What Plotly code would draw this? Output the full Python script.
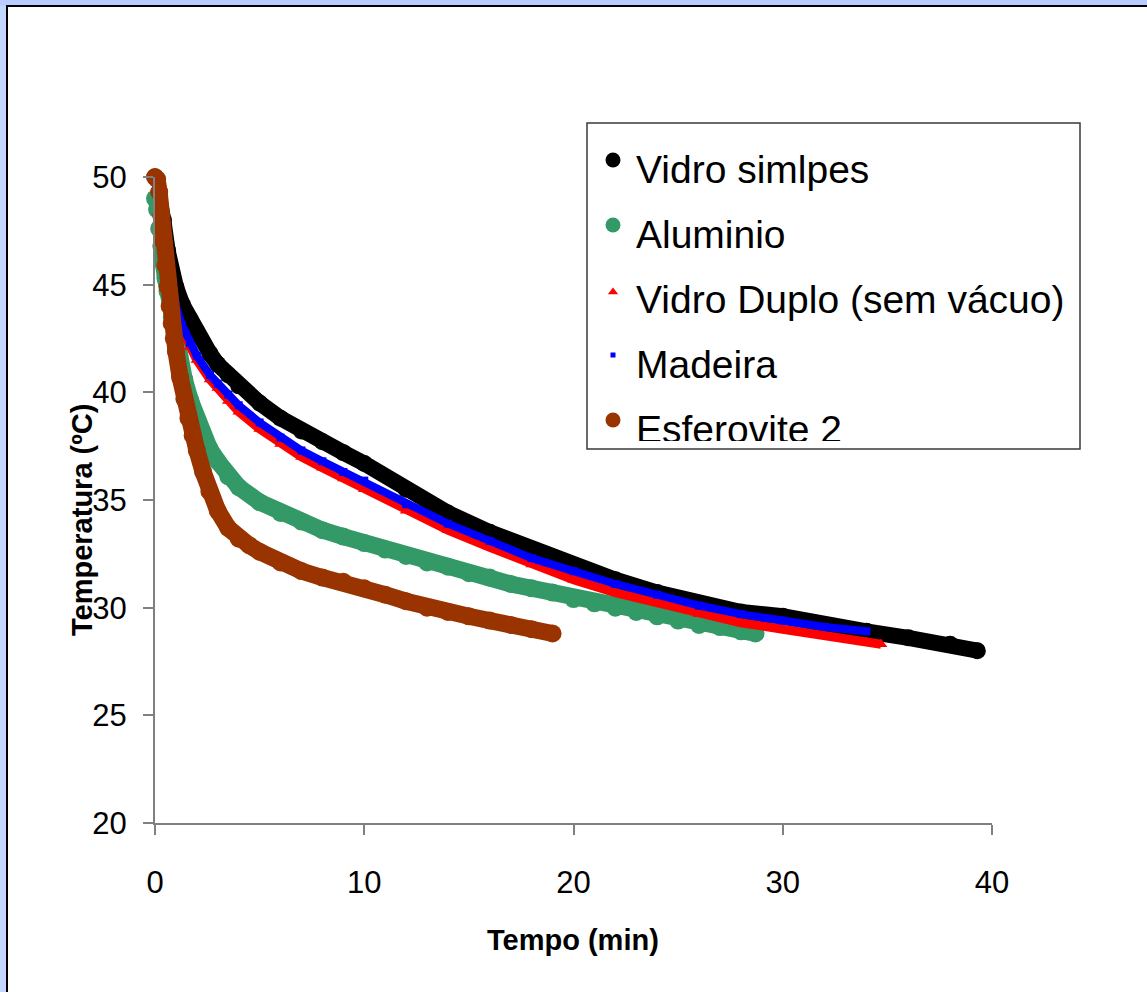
import plotly.graph_objects as go

# ---- cooling curves: time (min) and temperature (ºC) ----
vidro_simples_t = [0, 0.2, 0.4, 0.6, 0.72, 1.0, 1.3, 1.67, 2.0, 2.63, 3.0, 3.5, 4.0, 5.0, 6, 7, 8, 9, 10,
                   12, 14, 16, 18, 20, 22, 24, 26, 28, 30, 32, 34, 36, 38, 39.3]
vidro_simples_T = [50, 49.3, 48.0, 46.6, 45.7, 44.9, 44.1, 43.4, 42.8, 41.8, 41.3, 40.8, 40.3, 39.5, 38.8, 38.2, 37.7, 37.2, 36.7,
                   35.5, 34.4, 33.5, 32.7, 31.9, 31.3, 30.7, 30.2, 29.8, 29.6, 29.2, 28.9, 28.6, 28.3, 28.0]

aluminio_t = [0, 0.1, 0.2, 0.3, 0.4, 0.5, 0.6, 0.8, 1.0, 1.2, 1.4, 1.7, 2.0, 2.3, 2.6, 3.0, 3.5, 4.0, 5.0,
              6, 7, 8, 9, 10, 11, 12, 13, 14, 15, 16, 17, 18, 19, 20, 21, 22, 23, 24, 25, 26, 27, 28, 28.7]
aluminio_T = [49.0, 48.5, 47.6, 46.8, 46.0, 45.3, 44.7, 43.5, 42.4, 41.4, 40.6, 39.6, 38.7, 38.0, 37.4, 36.8, 36.1, 35.6, 34.9,
              34.4, 34.0, 33.6, 33.3, 33.0, 32.7, 32.4, 32.1, 31.9, 31.6, 31.4, 31.1, 30.9, 30.7, 30.4, 30.2, 30.0, 29.8, 29.6, 29.4, 29.2, 29.1, 28.9, 28.8]

vidro_duplo_t = [0, 0.2, 0.4, 0.6, 0.72, 1.0, 1.3, 1.67, 2.0, 2.63, 3.0, 3.5, 4.0, 5, 6, 7, 8, 9, 10,
                 12, 14, 16, 18, 20, 22, 24, 26, 28, 30, 32, 34, 34.7]
vidro_duplo_T = [50, 48.7, 47.1, 45.7, 45.0, 43.8, 42.9, 42.1, 41.5, 40.6, 40.2, 39.6, 39.1, 38.3, 37.6, 37.0, 36.5, 36.0, 35.5,
                 34.5, 33.6, 32.8, 32.0, 31.3, 30.7, 30.2, 29.7, 29.3, 29.0, 28.7, 28.4, 28.3]

madeira_t = [0, 0.2, 0.4, 0.6, 0.72, 1.0, 1.3, 1.67, 2.0, 2.63, 3.0, 3.5, 4.0, 5, 6, 7, 8, 9, 10,
             12, 14, 16, 18, 20, 22, 24, 26, 28, 30, 32, 34]
madeira_T = [50, 48.8, 47.3, 45.9, 45.2, 44.0, 43.1, 42.3, 41.7, 40.8, 40.4, 39.9, 39.4, 38.6, 37.9, 37.3, 36.8, 36.3, 35.9,
             34.8, 33.9, 33.1, 32.3, 31.7, 31.1, 30.6, 30.1, 29.7, 29.4, 29.1, 28.9]

esferovite_t = [0, 0.1, 0.2, 0.3, 0.4, 0.5, 0.6, 0.7, 0.8, 0.9, 1.0, 1.2, 1.4, 1.6, 1.8, 2.0, 2.3, 2.6, 3.0, 3.5, 4.0, 4.5, 5.0,
                6, 7, 8, 9, 10, 11, 12, 13, 14, 15, 16, 17, 18, 19]
esferovite_T = [50, 49.9, 49.3, 48.2, 47.0, 45.9, 44.9, 44.0, 43.2, 42.5, 41.9, 40.7, 39.7, 38.8, 38.0, 37.3, 36.3, 35.4, 34.5, 33.7, 33.2, 32.9, 32.6,
                32.1, 31.7, 31.4, 31.2, 30.9, 30.6, 30.3, 30.0, 29.8, 29.6, 29.4, 29.2, 29.0, 28.8]

series_names = ["Vidro simlpes", "Aluminio", "Vidro Duplo (sem vácuo)", "Madeira", "Esferovite 2"]

x_ticks = [0, 10, 20, 30, 40]
y_ticks = [20, 25, 30, 35, 40, 45, 50]

W, H = 1147, 992
FONT = "Liberation Sans, Arial, sans-serif"


def fx(px):
    return px / W


def fy(py):
    return 1 - py / H


styles = [
    dict(color="#000000", symbol="circle", size=17, lw=16),
    dict(color="#339966", symbol="circle", size=18, lw=17),
    dict(color="#FF0000", symbol="triangle-up", size=11, lw=9),
    dict(color="#0000FF", symbol="square", size=8, lw=8),
    dict(color="#993300", symbol="circle", size=18, lw=17),
]
data = [
    (vidro_simples_t, vidro_simples_T),
    (aluminio_t, aluminio_T),
    (vidro_duplo_t, vidro_duplo_T),
    (madeira_t, madeira_T),
    (esferovite_t, esferovite_T),
]

fig = go.Figure()

for name, (tt, TT), st in zip(series_names, data, styles):
    fig.add_trace(go.Scatter(
        x=tt, y=TT, name=name, mode="lines+markers",
        line=dict(color=st["color"], width=st["lw"]),
        marker=dict(color=st["color"], symbol=st["symbol"], size=st["size"], line=dict(width=0)),
        cliponaxis=False, showlegend=False, xaxis="x", yaxis="y",
    ))

# ---- legend drawn on its own small axes so the last row is clipped by the box ----
LEG_X0, LEG_X1, LEG_Y0, LEG_Y1, LEG_CLIP = 587, 1080, 123, 449, 441
row_marker_y = [160, 225, 292, 355, 420]
row_text_y = [173, 238, 303, 368, 433]
legend_marker_sizes = [15, 15, 9, 5, 15]
for i, (name, st) in enumerate(zip(series_names, styles)):
    fig.add_trace(go.Scatter(
        x=[613], y=[row_marker_y[i]], mode="markers",
        marker=dict(color=st["color"], symbol=st["symbol"], size=legend_marker_sizes[i], line=dict(width=0)),
        xaxis="x2", yaxis="y2", showlegend=False, hoverinfo="skip",
    ))
    fig.add_trace(go.Scatter(
        x=[636], y=[row_text_y[i]], mode="text", text=[name], textposition="middle right",
        textfont=dict(family=FONT, size=39, color="#000000"),
        xaxis="x2", yaxis="y2", showlegend=False, hoverinfo="skip", cliponaxis=True,
    ))

axis_common = dict(
    showgrid=False, zeroline=False, showline=True, linecolor="#808080", linewidth=2,
    ticks="outside", ticklen=10, tickwidth=1.5, tickcolor="#808080", automargin=False,
    tickfont=dict(family=FONT, size=31, color="#000000"),
)

fig.update_layout(
    width=W, height=H,
    margin=dict(l=0, r=0, t=0, b=0, autoexpand=False),
    paper_bgcolor="#c4d8ff",
    plot_bgcolor="#ffffff",
    showlegend=False,
    xaxis=dict(domain=[fx(155), fx(992)], range=[0, 40], tickvals=x_ticks,
               ticklabelstandoff=21, anchor="y", **axis_common),
    yaxis=dict(domain=[fy(823), fy(177)], range=[20, 50], tickvals=y_ticks,
               ticklabelstandoff=10, anchor="x", **axis_common),
    xaxis2=dict(domain=[fx(LEG_X0), fx(LEG_X1)], range=[LEG_X0, LEG_X1], visible=False,
                anchor="y2", automargin=False),
    yaxis2=dict(domain=[fy(LEG_CLIP), fy(LEG_Y0)], range=[LEG_CLIP, LEG_Y0], visible=False,
                anchor="x2", automargin=False),
    shapes=[
        # top frame strip
        dict(type="rect", xref="paper", yref="paper", x0=0, x1=1, y0=fy(6), y1=1,
             fillcolor="#b8ccff", line=dict(width=0), layer="below"),
        # white panel with dark frame
        dict(type="rect", xref="paper", yref="paper", x0=fx(7), x1=fx(1160), y0=fy(1005), y1=fy(6),
             fillcolor="#ffffff", line=dict(color="#000000", width=2), layer="below"),
        # legend box
        dict(type="rect", xref="paper", yref="paper", x0=fx(LEG_X0), x1=fx(LEG_X1), y0=fy(LEG_Y1), y1=fy(LEG_Y0),
             fillcolor="rgba(0,0,0,0)", line=dict(color="#3a3a3a", width=1.5), layer="above"),
    ],
    annotations=[
        dict(text="<b>Tempo (min)</b>", xref="paper", yref="paper", x=fx(573), y=fy(940),
             showarrow=False, font=dict(family=FONT, size=29, color="#000000"),
             xanchor="center", yanchor="middle"),
        dict(text="<b>Temperatura (ºC)</b>", xref="paper", yref="paper", x=fx(82), y=fy(520),
             showarrow=False, textangle=-90, font=dict(family=FONT, size=29, color="#000000"),
             xanchor="center", yanchor="middle"),
    ],
)

fig.write_html("out.html")
